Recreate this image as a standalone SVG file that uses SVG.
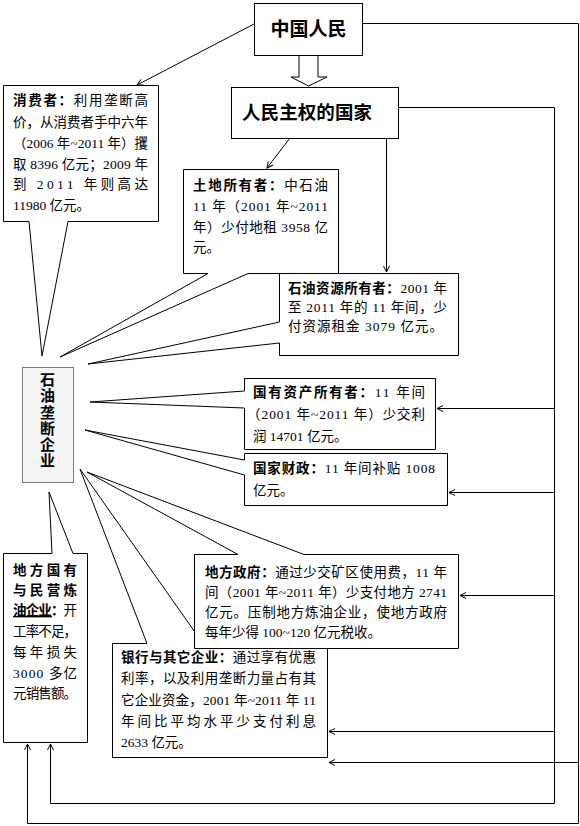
<svg xmlns="http://www.w3.org/2000/svg" width="580" height="826" viewBox="0 0 580 826">
<style>
.box{fill:#fff;stroke:#000;stroke-width:1}
.t{font-family:"Liberation Serif","Noto Sans CJK SC",serif;font-size:13.5px;fill:#000}
.h{font-family:"Liberation Serif","Noto Sans CJK SC",serif;font-weight:bold;fill:#000}
.b{font-weight:bold}
.u{text-decoration:underline}
.con{fill:none;stroke:#000;stroke-width:1}
.arr{marker-end:url(#ah)}
</style>
<defs>
<marker id="ah" markerWidth="10" markerHeight="10" refX="7" refY="4" orient="auto" markerUnits="userSpaceOnUse">
<path d="M1,1 L7,4 L1,7" fill="none" stroke="#000" stroke-width="1"/>
</marker>
</defs>
<rect width="580" height="826" fill="#fff"/>

<g id="connectors">
<path class="box" d="M299,55 V77 H291 L308.5,86 L327,77 H318 V55"/>
<line class="con arr" x1="254" y1="24" x2="137" y2="85"/>
<line class="con arr" x1="290" y1="138" x2="267" y2="168"/>
<line class="con arr" x1="386.5" y1="138" x2="386.5" y2="272"/>
<polyline class="con arr" points="362,23.5 578.5,23.5 578.5,823.5 27.5,823.5 27.5,744"/>
<polyline class="con arr" points="579,762.5 329,762.5"/>
<polyline class="con arr" points="398,107.5 554.5,107.5 554.5,803.5 50.5,803.5 50.5,744"/>
<polyline class="con arr" points="554,408.5 437,408.5"/>
<polyline class="con arr" points="554,492.5 449,492.5"/>
<polyline class="con arr" points="554,595.5 460,595.5"/>
<polyline class="con arr" points="554,731.5 329,731.5"/>
</g>

<g id="zhongguorenmin">
<rect class="box" x="254.5" y="3.5" width="108" height="52"/>
<text class="h" x="308.5" y="36" font-size="19" text-anchor="middle">中国人民</text>
</g>

<g id="renminzhuquan">
<rect class="box" x="231.5" y="87.5" width="167" height="51"/>
<text class="h" x="242" y="119" font-size="18.5" textLength="130" lengthAdjust="spacing">人民主权的国家</text>
</g>

<g id="xiaofeizhe">
<path class="box" d="M3.5,85.5 H158.5 V221.5 H68 L42,356 L29,221.5 H3.5 Z"/>
<text class="t" x="13" y="105" textLength="135" lengthAdjust="spacing"><tspan class="b">消费者：</tspan>利用垄断高</text>
<text class="t" x="13" y="127" textLength="135" lengthAdjust="spacing">价，从消费者手中六年</text>
<text class="t" x="13" y="148" textLength="135" lengthAdjust="spacing">（2006 年~2011 年）攫</text>
<text class="t" x="13" y="169" textLength="135" lengthAdjust="spacing">取 8396 亿元；2009 年</text>
<text class="t" x="13" y="189" textLength="135" lengthAdjust="spacing">到 2011 年则高达</text>
<text class="t" x="13" y="210">11980 亿元。</text>
</g>

<g id="tudisuoyouzhe">
<path class="box" d="M183.5,169.5 H338.5 V273.5 H248 L60,357 L208,273.5 H183.5 Z"/>
<text class="t" x="193" y="190" textLength="135" lengthAdjust="spacing"><tspan class="b">土地所有者：</tspan>中石油</text>
<text class="t" x="193" y="211" textLength="135" lengthAdjust="spacing">11 年（2001 年~2011</text>
<text class="t" x="193" y="232" textLength="135" lengthAdjust="spacing">年）少付地租 3958 亿</text>
<text class="t" x="193" y="252">元。</text>
</g>

<g id="shiyouziyuan">
<path class="box" d="M279.5,273.5 H458.5 V355.5 H279.5 V343 L88,364 L279.5,322 Z"/>
<text class="t" x="288" y="293" textLength="159" lengthAdjust="spacing"><tspan class="b">石油资源所有者：</tspan>2001 年</text>
<text class="t" x="288" y="312" textLength="159" lengthAdjust="spacing">至 2011 年的 11 年间，少</text>
<text class="t" x="288" y="331" textLength="155" lengthAdjust="spacing">付资源租金 3079 亿元。</text>
</g>

<g id="shiyoulongduan">
<rect x="22.5" y="367.5" width="51" height="115" fill="#f4f4f4" stroke="#7a7a7a" stroke-width="1"/>
<text class="h" font-size="15" text-anchor="middle">
<tspan x="47.5" y="385">石</tspan><tspan x="47.5" y="401">油</tspan><tspan x="47.5" y="417.5">垄</tspan><tspan x="47.5" y="433.5">断</tspan><tspan x="47.5" y="450">企</tspan><tspan x="47.5" y="466">业</tspan>
</text>
</g>

<g id="guoyouzichan">
<path class="box" d="M244.5,378.5 H435.5 V449.5 H244.5 V408 L90,402 L244.5,391 Z"/>
<text class="t" x="253" y="397" textLength="172" lengthAdjust="spacing"><tspan class="b">国有资产所有者：</tspan>11 年间</text>
<text class="t" x="247" y="419" textLength="178" lengthAdjust="spacing">（2001 年~2011 年）少交利</text>
<text class="t" x="253" y="441">润 14701 亿元。</text>
</g>

<g id="guojiacaizheng">
<path class="box" d="M244.5,453.5 H447.5 V505.5 H244.5 V475 L85,430 L244.5,460 Z"/>
<text class="t" x="253" y="473" textLength="182" lengthAdjust="spacing"><tspan class="b">国家财政：</tspan>11 年间补贴 1008</text>
<text class="t" x="253" y="495">亿元。</text>
</g>

<g id="difangguoyou">
<path class="box" d="M3.5,553.5 H52 L49,492 L73,553.5 H87.5 V742.5 H3.5 Z"/>
<text class="t" x="13" y="575" textLength="64" lengthAdjust="spacing"><tspan class="b">地方国有</tspan></text>
<text class="t" x="13" y="595" textLength="64" lengthAdjust="spacing"><tspan class="b">与民营炼</tspan></text>
<text class="t" x="13" y="615" textLength="64" lengthAdjust="spacing"><tspan class="b u">油企业</tspan><tspan class="b">：</tspan>开</text>
<text class="t" x="13" y="636" textLength="64" lengthAdjust="spacing">工率不足，</text>
<text class="t" x="13" y="657" textLength="64" lengthAdjust="spacing">每年损失</text>
<text class="t" x="13" y="678" textLength="64" lengthAdjust="spacing">3000 多亿</text>
<text class="t" x="13" y="698" textLength="64" lengthAdjust="spacing">元销售额。</text>
</g>

<g id="yinhang">
<path class="box" d="M112.5,643.5 H147 L80,469 L203,643.5 H327.5 V757.5 H112.5 Z"/>
<text class="t" x="121" y="662" textLength="195" lengthAdjust="spacing"><tspan class="b">银行与其它企业：</tspan>通过享有优惠</text>
<text class="t" x="121" y="683" textLength="195" lengthAdjust="spacing">利率，以及利用垄断力量占有其</text>
<text class="t" x="121" y="705" textLength="195" lengthAdjust="spacing">它企业资金，2001 年~2011 年 11</text>
<text class="t" x="121" y="726" textLength="195" lengthAdjust="spacing">年间比平均水平少支付利息</text>
<text class="t" x="121" y="747">2633 亿元。</text>
</g>

<g id="difangzhengfu">
<path class="box" d="M194.5,554.5 H238 L87,472 L304,554.5 H458.5 V648.5 H194.5 Z"/>
<text class="t" x="205" y="577" textLength="242" lengthAdjust="spacing"><tspan class="b">地方政府：</tspan>通过少交矿区使用费，11 年</text>
<text class="t" x="205" y="597" textLength="242" lengthAdjust="spacing">间（2001 年~2011 年）少支付地方 2741</text>
<text class="t" x="205" y="617" textLength="242" lengthAdjust="spacing">亿元。压制地方炼油企业，使地方政府</text>
<text class="t" x="205" y="637">每年少得 100~120 亿元税收。</text>
</g>
</svg>
